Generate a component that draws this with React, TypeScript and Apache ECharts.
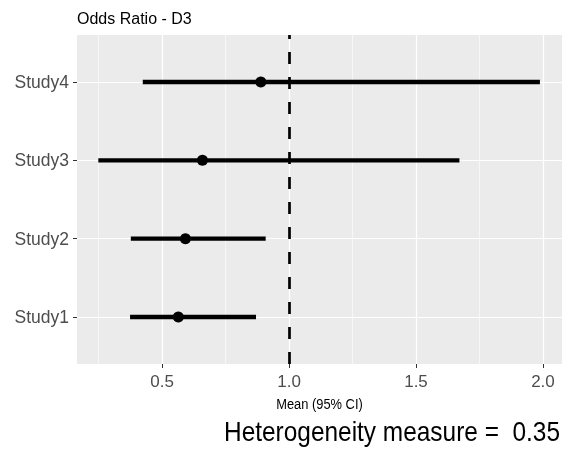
import React, { useEffect, useRef } from "react";
import * as echarts from "echarts";

const studies = ["Study1", "Study2", "Study3", "Study4"];
const studyPositions = [1, 2, 3, 4];
const means = [0.564, 0.592, 0.659, 0.889];
const lows = [0.374, 0.377, 0.249, 0.424];
const highs = [0.87, 0.908, 1.671, 1.988];
const xMajorTicks = [0.5, 1.0, 1.5, 2.0];
const xMinorTicks = [0.25, 0.75, 1.25, 1.75];
const referenceValue = 1.0;
const titleText = "Odds Ratio - D3";
const xAxisTitle = "Mean (95% CI)";
const heterogeneity = 0.35;

const FONT = '"Liberation Sans", Arial, sans-serif';

export default function App() {
  const ref = useRef<HTMLDivElement>(null);
  useEffect(() => {
    if (!ref.current) return;
    const chart = echarts.init(ref.current, null, { renderer: "svg" });
    const gridMarks = [
      ...xMinorTicks.map((v) => ({ xAxis: v, lineStyle: { color: "#fff", width: 0.6, type: "solid" } })),
      ...xMajorTicks.map((v) => ({ xAxis: v, lineStyle: { color: "#fff", width: 1.2, type: "solid" } })),
      ...studyPositions.map((v) => ({ yAxis: v, lineStyle: { color: "#fff", width: 1.2, type: "solid" } })),
    ];
    chart.setOption({
      animation: false,
      textStyle: { fontFamily: FONT },
      grid: {
        left: 77,
        top: 35,
        right: 7,
        bottom: 86,
        show: true,
        backgroundColor: "#EBEBEB",
        borderWidth: 0,
        containLabel: false,
      },
      xAxis: {
        type: "value",
        min: 0.165,
        max: 2.075,
        axisLine: { show: false },
        splitLine: { show: false },
        axisTick: { show: true, length: 4, customValues: xMajorTicks, lineStyle: { color: "#333", width: 1 } },
        axisLabel: {
          customValues: xMajorTicks,
          formatter: (v: number) => v.toFixed(1),
          color: "#4D4D4D",
          fontSize: 17,
          fontFamily: FONT,
          margin: 9,
        },
      },
      yAxis: {
        type: "value",
        min: 0.4,
        max: 4.6,
        axisLine: { show: false },
        splitLine: { show: false },
        axisTick: { show: true, length: 4, customValues: studyPositions, lineStyle: { color: "#333", width: 1 } },
        axisLabel: {
          customValues: studyPositions,
          formatter: (v: number) => studies[Math.round(v) - 1] ?? "",
          color: "#4D4D4D",
          fontSize: 17.5,
          fontFamily: FONT,
          margin: 8,
        },
      },
      graphic: [
        {
          type: "text",
          x: 77,
          y: 18.5,
          style: { text: titleText, fontSize: 16, fontFamily: FONT, fill: "#000", verticalAlign: "middle" },
        },
        {
          type: "text",
          x: 319.5,
          y: 404,
          scaleX: 0.92,
          style: {
            text: xAxisTitle,
            fontSize: 14,
            fontFamily: FONT,
            fill: "#000",
            align: "center",
            verticalAlign: "middle",
          },
        },
        {
          type: "text",
          x: 560,
          y: 432,
          scaleX: 0.905,
          style: {
            text: "Heterogeneity measure =  " + heterogeneity.toFixed(2),
            fontSize: 27,
            fontFamily: FONT,
            fill: "#000",
            align: "right",
            verticalAlign: "middle",
          },
        },
      ],
      series: [
        {
          type: "line",
          data: [],
          silent: true,
          z: 1,
          markLine: {
            silent: true,
            z: 1,
            symbol: ["none", "none"],
            label: { show: false },
            data: gridMarks,
            animation: false,
          },
        },
        {
          type: "custom",
          z: 10,
          data: studies.map((_, i) => [lows[i], highs[i], studyPositions[i]]),
          encode: { x: [0, 1], y: 2 },
          renderItem: (params: any, api: any) => {
            const p1 = api.coord([api.value(0), api.value(2)]);
            const p2 = api.coord([api.value(1), api.value(2)]);
            return {
              type: "line",
              shape: { x1: p1[0], y1: p1[1], x2: p2[0], y2: p2[1] },
              style: { stroke: "#000", lineWidth: 4.3 },
            };
          },
        },
        {
          type: "scatter",
          z: 11,
          symbol: "circle",
          symbolSize: 11,
          itemStyle: { color: "#000", opacity: 1 },
          data: means.map((m, i) => [m, studyPositions[i]]),
        },
        {
          type: "line",
          data: [],
          z: 12,
          markLine: {
            silent: true,
            z: 12,
            symbol: ["none", "none"],
            label: { show: false },
            lineStyle: { color: "#000", width: 2.7, type: [12, 13] },
            data: [{ xAxis: referenceValue }],
            animation: false,
          },
        },
      ],
    });
    return () => chart.dispose();
  }, []);
  return (
    <div
      ref={ref}
      style={{ position: "fixed", left: 0, top: 0, width: 569, height: 450 }}
    />
  );
}
